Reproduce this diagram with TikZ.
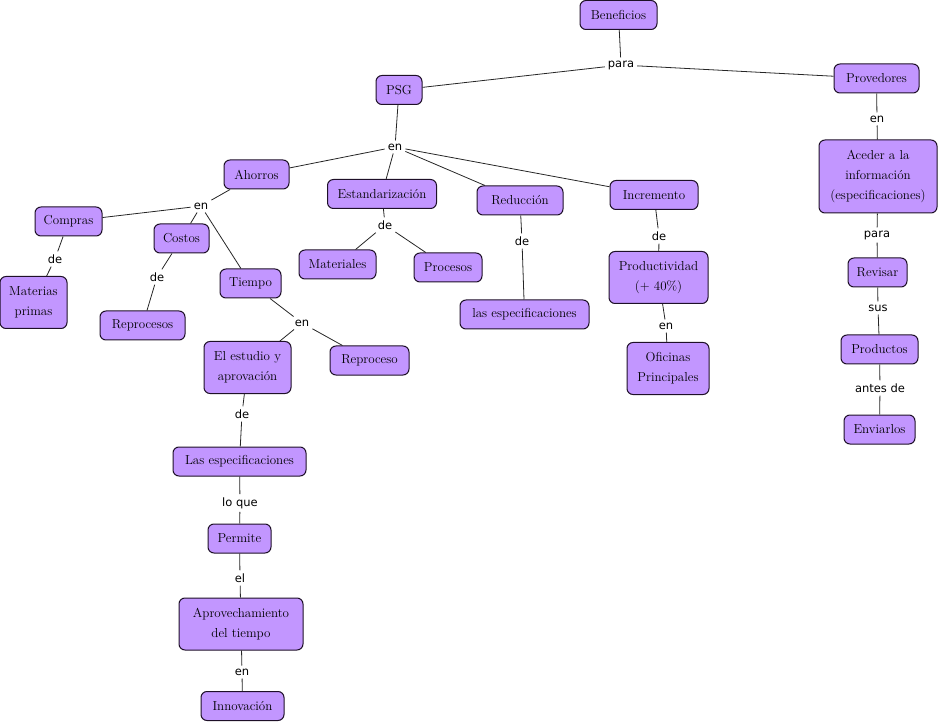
\documentclass[tikz,border=0pt]{standalone}
\usepackage{fontspec}
\newfontfamily\lblfont{DejaVu Sans}
\definecolor{lila}{RGB}{194,150,255}
\definecolor{borde}{RGB}{30,16,40}
\tikzset{
  concepto/.style={draw=borde, line width=1pt, fill=lila, rounded corners=6pt, align=center,
    font=\fontsize{13}{20}\selectfont, inner xsep=2pt, inner ysep=2pt, minimum height=29pt, minimum width=#1},
  concepto/.default=60pt,
  dos/.style={minimum height=52pt},
  enlace/.style={font=\lblfont\fontsize{11.5}{13}\selectfont, inner sep=3pt},
  linea/.style={draw=black!85, line width=0.8pt}
}
\begin{document}
\begin{tikzpicture}[x=1pt, y=-1pt]
    \useasboundingbox (0,0) rectangle (938,722);
    % conceptos
    \node[concepto=77pt] (ben) at (618.5,15) {Beneficios};
    \node[concepto=85pt] (prov) at (876.5,78.5) {Provedores};
    \node[concepto=46pt] (psg) at (399,90) {PSG};
    \node[concepto=65pt] (aho) at (256.5,174.5) {Ahorros};
    \node[concepto=109pt] (est) at (382,194) {Estandarización};
    \node[concepto=86pt] (red) at (520,200.5) {Reducción};
    \node[concepto=88pt] (inc) at (654,195) {Incremento};
    \node[concepto=67pt] (comp) at (68.5,221.5) {Compras};
    \node[concepto=55pt] (cost) at (181.5,238.5) {Costos};
    \node[concepto=61pt] (tie) at (250.5,283.5) {Tiempo};
    \node[concepto=67pt, dos] (matp) at (33.5,302.5) {Materias\\primas};
    \node[concepto=85pt] (repr) at (142.5,325.5) {Reprocesos};
    \node[concepto=77pt] (mat) at (337.5,264.5) {Materiales};
    \node[concepto=68pt] (proc) at (448,267.5) {Procesos};
    \node[concepto=87pt, dos] (estu) at (247.5,367.5) {El estudio y\\aprovación};
    \node[concepto=79pt] (rep) at (369.5,360.5) {Reproceso};
    \node[concepto=133pt] (esp) at (239.5,461.5) {Las especificaciones};
    \node[concepto=63pt] (perm) at (239.5,538.5) {Permite};
    \node[concepto=124pt, dos] (apro) at (241,624) {Aprovechamiento\\del tiempo};
    \node[concepto=83pt] (inno) at (242.5,706) {Innovación};
    \node[concepto=129pt] (espr) at (524.5,314.5) {las especificaciones};
    \node[concepto=99pt, dos] (prod) at (658.5,277.5) {Productividad\\(+ 40\%)};
    \node[concepto=82pt, dos] (ofi) at (668,368.5) {Oficinas\\Principales};
    \node[concepto=118pt, minimum height=73pt] (ace) at (878,176.5) {Aceder a la\\información\\(especificaciones)};
    \node[concepto=59pt] (rev) at (877.5,272.5) {Revisar};
    \node[concepto=77pt] (pdt) at (879.5,349.5) {Productos};
    \node[concepto=71pt] (env) at (879.5,429.5) {Enviarlos};
    % enlaces
    \node[enlace] (e1) at (621,65) {para}; \node[enlace] (e2) at (395,147) {en};
    \node[enlace] (e3) at (201,206) {en}; \node[enlace] (e4) at (55,259) {de};
    \node[enlace] (e5) at (157,277) {de}; \node[enlace] (e6) at (302,323) {en};
    \node[enlace] (e7) at (242,414) {de}; \node[enlace] (e8) at (240,503) {lo que};
    \node[enlace] (e9) at (240,578) {el}; \node[enlace] (e10) at (242,672) {en};
    \node[enlace] (e11) at (385,225) {de}; \node[enlace] (e12) at (522,241) {de};
    \node[enlace] (e13) at (659,236) {de}; \node[enlace] (e14) at (666,326) {en};
    \node[enlace] (e15) at (877,119) {en}; \node[enlace] (e16) at (877,235) {para};
    \node[enlace] (e17) at (878,308) {sus}; \node[enlace] (e18) at (880,388) {antes de};
    \foreach \a/\b in {ben/e1, e1/psg, e1/prov, psg/e2, e2/aho, e2/est, e2/red, e2/inc,
        aho/e3, e3/comp, e3/cost, e3/tie, comp/e4, e4/matp, cost/e5, e5/repr,
        tie/e6, e6/estu, e6/rep, estu/e7, e7/esp, esp/e8, e8/perm, perm/e9, e9/apro,
        apro/e10, e10/inno, est/e11, e11/mat, e11/proc, red/e12, e12/espr,
        inc/e13, e13/prod, prod/e14, e14/ofi, prov/e15, e15/ace, ace/e16, e16/rev,
        rev/e17, e17/pdt, pdt/e18, e18/env}
        \draw[linea] (\a) -- (\b);
\end{tikzpicture}
\end{document}
